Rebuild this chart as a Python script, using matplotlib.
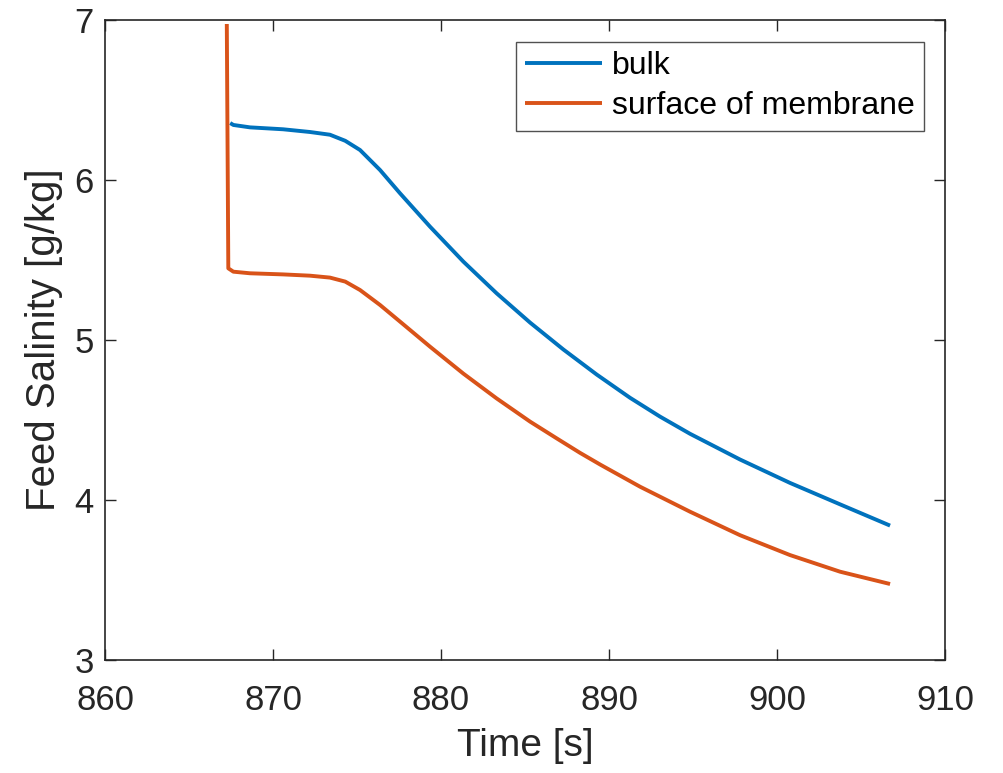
import matplotlib
matplotlib.use("Agg")
import matplotlib.pyplot as plt

# ---- data ----
t_bulk = [867.45, 867.64, 868.63, 870.60, 872.20, 873.39, 874.30, 875.18, 876.37,
          877.56, 879.35, 881.33, 883.31, 885.30, 887.28, 889.27, 891.25, 893.04,
          894.82, 897.80, 900.77, 903.75, 906.73]
s_bulk = [6.356, 6.344, 6.329, 6.317, 6.300, 6.283, 6.245, 6.1875, 6.0625,
          5.917, 5.708, 5.490, 5.292, 5.109, 4.941, 4.784, 4.639, 4.521,
          4.414, 4.253, 4.107, 3.973, 3.840]

t_surf = [867.25, 867.34, 867.64, 868.63, 870.60, 872.20, 873.39, 874.30, 875.18,
          876.37, 877.56, 879.35, 881.33, 883.31, 885.30, 886.89, 888.27, 889.50,
          891.85, 894.82, 897.80, 900.77, 903.75, 906.73]
s_surf = [6.975, 5.448, 5.427, 5.417, 5.410, 5.402, 5.390, 5.365, 5.3125,
          5.219, 5.115, 4.958, 4.790, 4.635, 4.490, 4.385, 4.295, 4.220,
          4.083, 3.927, 3.780, 3.656, 3.552, 3.475]

series_labels = ["bulk", "surface of membrane"]
x_ticks = [860, 870, 880, 890, 900, 910]
y_ticks = [3, 4, 5, 6, 7]
x_label = "Time [s]"
y_label = "Feed Salinity [g/kg]"

plt.rcParams['font.family'] = ['Liberation Sans', 'DejaVu Sans']
txt = '#262626'

fig = plt.figure(figsize=(10.04, 7.73), dpi=100)
ax = fig.add_axes([105/1004, 113/773, 840/1004, 640/773])

ax.plot(t_bulk, s_bulk, color='#0072BD', lw=2.8, label=series_labels[0],
        solid_capstyle='butt', solid_joinstyle='round')
ax.plot(t_surf, s_surf, color='#D95319', lw=2.8, label=series_labels[1],
        solid_capstyle='butt', solid_joinstyle='round')

ax.set_xlim(860, 910)
ax.set_ylim(3, 7)
ax.set_xticks(x_ticks)
ax.set_yticks(y_ticks)
ax.tick_params(direction='in', length=8, width=1, colors=txt, labelsize=25,
               top=True, right=True)
ax.tick_params(axis='x', pad=17)
ax.tick_params(axis='y', pad=8)
for sp in ax.spines.values():
    sp.set_color(txt)
    sp.set_linewidth(1.2)

ax.set_xlabel(x_label, fontsize=28, color=txt, labelpad=8)
ax.set_ylabel(y_label, fontsize=29, color=txt, labelpad=8)

leg = ax.legend(loc='upper right', bbox_to_anchor=(0.975, 0.966),
                borderaxespad=0, fontsize=23, frameon=True, fancybox=False,
                edgecolor=txt, handlelength=2.4, handletextpad=0.3,
                labelspacing=0.3, borderpad=0.3)
leg.get_frame().set_linewidth(1.0)
for tx in leg.get_texts():
    tx.set_color('black')

fig.savefig('out.png', dpi=100, facecolor='white')
